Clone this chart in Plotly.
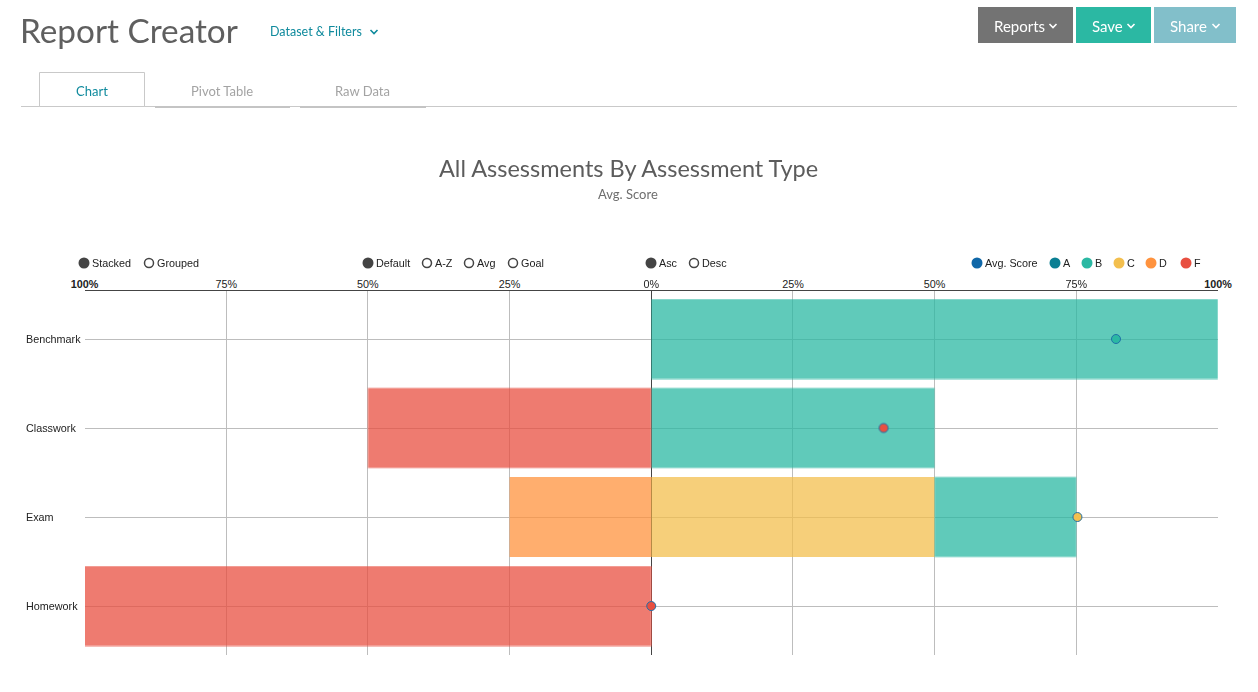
import plotly.graph_objects as go

W = 1258
H = 692

# Dati del grafico
categories = ["Benchmark", "Classwork", "Exam", "Homework"]
grade_c = [0, 0, 50, 0]
grade_b = [100, 50, 25, 0]
grade_d = [0, 0, -25, 0]
grade_f = [0, -50, 0, -100]
avg_score = [82, 41, 75.2, 0]
avg_colors = ["#2bb8a3", "#e84f40", "#f3bf4e", "#e84f40"]
tick_vals = [-100, -75, -50, -25, 0, 25, 50, 75, 100]
tick_text = ["<b>100%</b>", "75%", "50%", "25%", "0%", "25%", "50%", "75%", "<b>100%</b>"]
inner_grid = [-75, -50, -25, 25, 50, 75]

# Pulsanti, schede e legende della pagina
buttons = [("Reports", 978, 1073, "#737373"), ("Save", 1076, 1151, "#2bb8a3"), ("Share", 1154, 1236, "#82bfca")]
radios = [("Stacked", 84, True), ("Grouped", 149, False), ("Default", 368, True), ("A-Z", 427, False),
          ("Avg", 469, False), ("Goal", 513, False), ("Asc", 651, True), ("Desc", 694, False)]
legend_items = [("Avg. Score", 977, "#0f67a8"), ("A", 1055, "#0b7f93"), ("B", 1087, "#2bb8a3"),
                ("C", 1119, "#f3bf4e"), ("D", 1151, "#ff933e"), ("F", 1186, "#e84f40")]


def px(x):
    return x / W


def py(y):
    return 1 - y / H


annotations = []
shapes = []


def add_text(x, y, text, size=10.8, color="#222222", family="Liberation Sans", anchor="left", weight=None):
    font = dict(size=size, color=color, family=family)
    if weight:
        font["weight"] = weight
    annotations.append(dict(x=px(x), y=py(y), xref="paper", yref="paper", text=text, showarrow=False,
                            xanchor=anchor, yanchor="middle", font=font, borderpad=0, borderwidth=0))


def add_rect(x0, y0, x1, y1, fill=None, line=None, width=1):
    shapes.append(dict(type="rect", xref="paper", yref="paper", x0=px(x0), x1=px(x1), y0=py(y0), y1=py(y1),
                       fillcolor=fill or "rgba(0,0,0,0)", line=dict(color=line or "rgba(0,0,0,0)", width=width if line else 0),
                       layer="above"))


def add_dot(x, y, r, fill, line=None, width=0):
    shapes.append(dict(type="circle", xref="paper", yref="paper", x0=px(x - r), x1=px(x + r), y0=py(y - r), y1=py(y + r),
                       fillcolor=fill, line=dict(color=line or fill, width=width), layer="above"))


def add_chevron(x, y, color):
    path = f"M {px(x - 3.5)} {py(y - 2)} L {px(x)} {py(y + 1.5)} L {px(x + 3.5)} {py(y - 2)}"
    shapes.append(dict(type="path", xref="paper", yref="paper", path=path, line=dict(color=color, width=1.6), layer="above"))


def add_line(x0, y0, x1, y1, color, width=1):
    shapes.append(dict(type="line", xref="paper", yref="paper", x0=px(x0), x1=px(x1), y0=py(y0), y1=py(y1),
                       line=dict(color=color, width=width), layer="above"))


# Intestazione
add_text(20, 30, "Report Creator", size=33.3, color="#5f5f5f", family="Lato")
add_text(270, 32, "Dataset &amp; Filters", size=12.5, color="#0f8a9d", family="Lato")
add_chevron(374, 32, "#0f8a9d")
for label, x0, x1, color in buttons:
    add_rect(x0, 7, x1, 43, fill=color)
    add_text(x0 + 16, 26, label, size=15, color="#ffffff", family="Lato")
    add_chevron(x1 - 20, 26, "#ffffff")

# Schede
add_line(21, 106.5, 1237, 106.5, "#c9c9c9")
add_rect(39.5, 72.5, 144.5, 106.5, fill="#ffffff", line="#c9c9c9")
add_text(92, 91, "Chart", size=13, color="#0f8a9d", family="Lato", anchor="center")
add_text(222, 91, "Pivot Table", size=13, color="#a3a3a3", family="Lato", anchor="center")
add_text(362, 91, "Raw Data", size=13, color="#a3a3a3", family="Lato", anchor="center")
add_line(155, 107, 290, 107, "#c4c4c4", 2)
add_line(300, 107, 426, 107, "#c4c4c4", 2)

# Titolo
add_text(628, 168, "All Assessments By Assessment Type", size=23.5, color="#5c5c5c", family="Lato", anchor="center")
add_text(628, 194, "Avg. Score", size=13, color="#6e6e6e", family="Lato", anchor="center")

# Controlli e legenda
for label, x, selected in radios:
    if selected:
        add_dot(x, 263, 5.5, "#444444")
    else:
        add_dot(x, 263, 4.5, "#ffffff", "#444444", 1.5)
    add_text(x + 8, 263, label)
for label, x, color in legend_items:
    add_dot(x, 263, 5.5, color)
    add_text(x + 8, 263, label)

# Etichette delle categorie allineate a sinistra
y_pixels = [339, 428, 517, 606]
for name, y in zip(categories, y_pixels):
    add_text(26, y, name)

fig = go.Figure()
bar_series = [("C", grade_c, "#f3bf4e"), ("B", grade_b, "#2bb8a3"), ("D", grade_d, "#ff933e"), ("F", grade_f, "#e84f40")]
for name, values, color in bar_series:
    fig.add_trace(go.Bar(y=categories, x=values, name=name, orientation="h", width=0.9,
                         marker=dict(color=color, line=dict(width=0)), opacity=0.75))
fig.add_trace(go.Scatter(y=categories, x=avg_score, mode="markers", name="Avg. Score", cliponaxis=False,
                         marker=dict(size=9, color=avg_colors, line=dict(color="#1f6fa8", width=1))))

fig.update_layout(
    width=W,
    height=H,
    margin=dict(l=0, r=0, t=0, b=0, autoexpand=False),
    paper_bgcolor="#ffffff",
    plot_bgcolor="#ffffff",
    barmode="relative",
    showlegend=False,
    annotations=annotations,
    shapes=shapes,
    xaxis=dict(
        domain=[px(84.5), px(1218)],
        range=[-100, 100],
        side="top",
        automargin=False,
        tickmode="array",
        tickvals=tick_vals,
        ticktext=tick_text,
        tickfont=dict(size=10.8, color="#222222", family="Liberation Sans"),
        ticks="",
        ticklen=0,
        ticklabelstandoff=-3,
        showgrid=False,
        showline=True,
        linecolor="#444444",
        linewidth=1,
        zeroline=True,
        zerolinecolor="#444444",
        zerolinewidth=1,
        minor=dict(tickmode="array", tickvals=inner_grid, showgrid=True, gridcolor="#bdbdbd", gridwidth=1, ticks=""),
    ),
    yaxis=dict(
        domain=[py(655), py(290.5)],
        range=[3.55, -0.545],
        type="category",
        categoryorder="array",
        categoryarray=categories,
        automargin=False,
        showticklabels=False,
        ticks="",
        showgrid=True,
        gridcolor="#bdbdbd",
        gridwidth=1,
        zeroline=False,
        showline=False,
    ),
)

fig.write_html("out.html", config={"displayModeBar": False},
               post_script="document.body.style.margin='0';document.body.style.overflow='hidden';")
